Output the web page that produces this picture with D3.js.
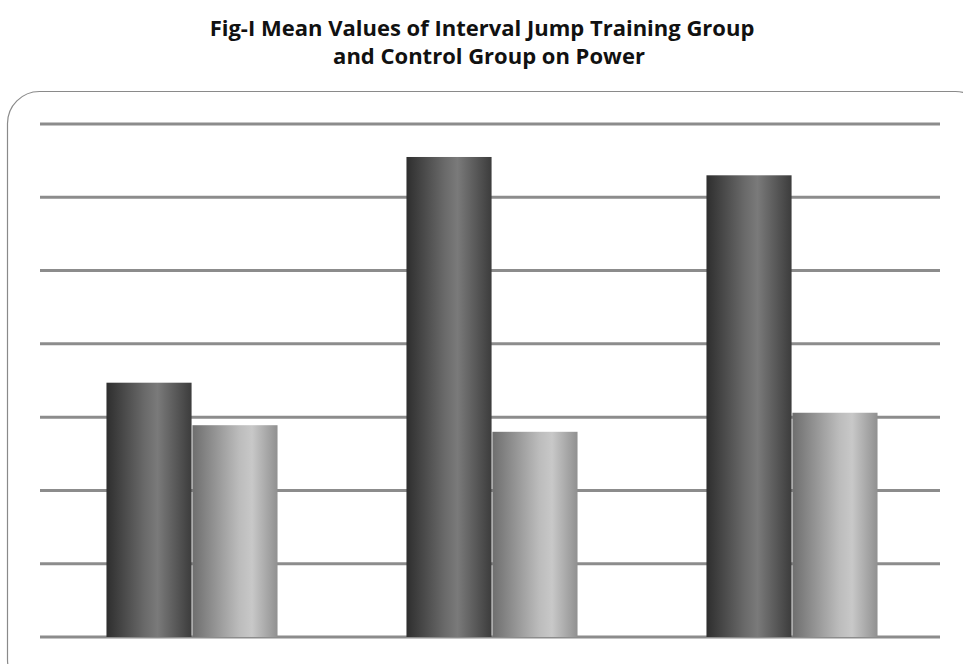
<!DOCTYPE html>
<html>
<head>
<meta charset="utf-8">
<script src="https://cdn.jsdelivr.net/npm/d3@7"></script>
<style>
  body { margin: 0; background: #fff; }
  svg { display: block; }
</style>
</head>
<body>
<svg id="chart"></svg>
<script>
// data (no axis labels, so units are grid steps)
const groups = ["Group A", "Group B", "Group C"];
const series = ["Interval Jump Training Group", "Control Group"];
const trainingValues = [3.47, 6.55, 6.30];
const controlValues = [2.89, 2.80, 3.06];
const gridTicks = [0, 1, 2, 3, 4, 5, 6, 7];

const width = 963, height = 664;
const margin = { top: 124, right: 23, bottom: 27, left: 40 };
const innerW = width - margin.left - margin.right;
const innerH = height - margin.top - margin.bottom;

const svg = d3.select("#chart").attr("width", width).attr("height", height);

// gradients that give the bars the cylinder look
const defs = svg.append("defs");
const gradients = {
    dark: [["0%", "#2e2e2e"], ["45%", "#6a6a6a"], ["60%", "#7a7a7a"], ["100%", "#3c3c3c"]],
    light: [["0%", "#6e6e6e"], ["55%", "#bcbcbc"], ["70%", "#c8c8c8"], ["100%", "#909090"]]
};
Object.entries(gradients).forEach(([id, stops]) => {
    const g = defs.append("linearGradient").attr("id", "grad-" + id)
        .attr("x1", "0%").attr("x2", "100%").attr("y1", "0%").attr("y2", "0%");
    stops.forEach(s => g.append("stop").attr("offset", s[0]).attr("stop-color", s[1]));
});

// title
const title = svg.append("text")
    .attr("text-anchor", "middle")
    .style("font-family", "'Open Sans', sans-serif")
    .style("font-weight", "bold")
    .style("font-size", "22px")
    .attr("fill", "#111");
title.append("tspan").attr("x", 482).attr("y", 36).text("Fig-I Mean Values of Interval Jump Training Group");
title.append("tspan").attr("x", 489).attr("y", 64).text("and Control Group on Power");

// rounded frame, runs off the right and bottom edge
svg.append("rect")
    .attr("x", 7.5).attr("y", 91.5)
    .attr("width", 980).attr("height", 600)
    .attr("rx", 32)
    .attr("fill", "none")
    .attr("stroke", "#8a8a8a")
    .attr("stroke-width", 1.2);

const g = svg.append("g").attr("transform", `translate(${margin.left}, ${margin.top})`);

const x0 = d3.scaleBand().domain(groups).range([2, innerW + 2]).paddingInner(0).paddingOuter(0);
const x1 = d3.scaleBand().domain(series).range([0, x0.bandwidth()]).paddingOuter(0.75).paddingInner(0.01);
const y = d3.scaleLinear().domain([0, 7]).range([innerH, 0]);

// grid lines
g.selectAll(".grid")
    .data(gridTicks)
    .join("line")
    .attr("class", "grid")
    .attr("x1", 0).attr("x2", innerW)
    .attr("y1", d => y(d)).attr("y2", d => y(d))
    .attr("stroke", "#8c8c8c")
    .attr("stroke-width", 3);

const rows = groups.map((grp, i) => ({ group: grp, values: [trainingValues[i], controlValues[i]] }));

const bars = g.selectAll(".barGroup")
    .data(rows)
    .join("g")
    .attr("class", "barGroup")
    .attr("transform", d => `translate(${x0(d.group)}, 0)`);

bars.selectAll("rect")
    .data(d => d.values.map((v, i) => ({ key: series[i], value: v, idx: i })))
    .join("rect")
    .attr("x", d => x1(d.key))
    .attr("y", d => y(d.value))
    .attr("width", x1.bandwidth())
    .attr("height", d => y(0) - y(d.value))
    .attr("fill", d => d.idx === 0 ? "url(#grad-dark)" : "url(#grad-light)");
</script>
</body>
</html>
